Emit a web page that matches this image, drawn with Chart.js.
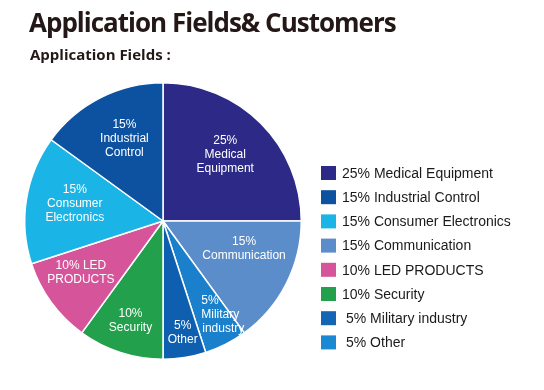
<!DOCTYPE html>
<html>
<head>
<meta charset="utf-8">
<script src="https://cdn.jsdelivr.net/npm/chart.js@4"></script>
<style>
  html, body { margin: 0; padding: 0; background: #fff; }
  #wrap { position: relative; width: 544px; height: 390px; overflow: hidden; }
  #title { position: absolute; left: 29px; top: 4px; font: 700 26px "Open Sans", sans-serif; color: #231815; white-space: nowrap; letter-spacing: -1px; }
  #sub { position: absolute; left: 30px; top: 44px; font: 700 15px "Open Sans", sans-serif; color: #231815; white-space: nowrap; }
  canvas { position: absolute; left: 0; top: 0; }
</style>
</head>
<body>
<div id="wrap">
  <canvas id="c" width="544" height="390"></canvas>
  <div id="title">Application Fields&amp; Customers</div>
  <div id="sub">Application Fields :</div>
</div>
<script>
// Slices in drawing order (clockwise from 12 o'clock)
const categories = ["Medical Equipment", "Communication", "Military industry", "Other", "Security", "LED PRODUCTS", "Consumer Electronics", "Industrial Control"];
const shares = [25, 15, 5, 5, 10, 10, 15, 15];
// In-slice label lines
const sliceLabels = [
  ["25%", "Medical", "Equipment"],
  ["15%", "Communication"],
  ["5%", "Military", "industry"],
  ["5%", "Other"],
  ["10%", "Security"],
  ["10% LED", "PRODUCTS"],
  ["15%", "Consumer", "Electronics"],
  ["15%", "Industrial", "Control"]
];
// Legend order (indices into categories)
const legendOrder = [0, 7, 6, 1, 5, 4, 2, 3];

const sliceColors = ["#2d2a87", "#5b8dca", "#1a80cc", "#0e5fb0", "#22a04c", "#d6559a", "#1ab4e6", "#0c52a0"];
const legendColors = ["#2d2a87", "#5b8dca", "#1565b5", "#1a88d2", "#22a04c", "#d6559a", "#1ab4e6", "#0c52a0"];
const labelRadius = [0.66, 0.62, 0.79, 0.82, 0.76, 0.70, 0.65, 0.66];
const labelAngleShift = [-2, -8, -4, -1, 0, 4, 2, 2];
const labelAlign = ["center", "center", "left", "center", "center", "center", "center", "center"];

const sliceTextPlugin = {
  id: 'sliceText',
  afterDatasetsDraw(chart) {
    const ctx = chart.ctx;
    const meta = chart.getDatasetMeta(0);
    ctx.save();
    ctx.fillStyle = '#ffffff';
    ctx.font = '12px "Liberation Sans", Arial, sans-serif';
    ctx.textBaseline = 'middle';
    meta.data.forEach((arc, i) => {
      const p = arc.getProps(['x', 'y', 'startAngle', 'endAngle', 'outerRadius'], true);
      const mid = (p.startAngle + p.endAngle) / 2 + labelAngleShift[i] * Math.PI / 180;
      const r = p.outerRadius * labelRadius[i];
      let cx = p.x + Math.cos(mid) * r;
      const cy = p.y + Math.sin(mid) * r;
      const lines = sliceLabels[i];
      const lh = 14;
      ctx.textAlign = labelAlign[i];
      if (labelAlign[i] === 'left') cx -= 18;
      lines.forEach((t, k) => {
        const dx = (labelAlign[i] === 'left' && k === 2) ? 1 : 0;
        ctx.fillText(t, cx + dx, cy + (k - (lines.length - 1) / 2) * lh);
      });
    });
    ctx.restore();
  }
};

const legendPlugin = {
  id: 'sideLegend',
  afterDraw(chart) {
    const ctx = chart.ctx;
    ctx.save();
    ctx.font = '14px "Liberation Sans", Arial, sans-serif';
    ctx.textBaseline = 'middle';
    ctx.textAlign = 'left';
    const x0 = 321, y0 = 173, step = 24.2;
    legendOrder.forEach((idx, k) => {
      const y = y0 + k * step;
      ctx.fillStyle = legendColors[idx];
      ctx.fillRect(x0, y - 7, 15, 14);
      ctx.fillStyle = '#1a1a1a';
      const pad = shares[idx] < 10 ? 4 : 0;
      ctx.fillText(shares[idx] + '% ' + categories[idx], x0 + 21 + pad, y + 1);
    });
    ctx.restore();
  }
};

new Chart(document.getElementById('c'), {
  type: 'pie',
  data: {
    labels: categories,
    datasets: [{
      data: shares,
      backgroundColor: sliceColors,
      borderColor: '#ffffff',
      borderWidth: 1.5
    }]
  },
  options: {
    responsive: false,
    animation: false,
    layout: { padding: { left: 24, top: 82, right: 242, bottom: 30 } },
    plugins: {
      legend: { display: false },
      tooltip: { enabled: false },
      title: { display: false }
    }
  },
  plugins: [sliceTextPlugin, legendPlugin]
});
</script>
</body>
</html>
